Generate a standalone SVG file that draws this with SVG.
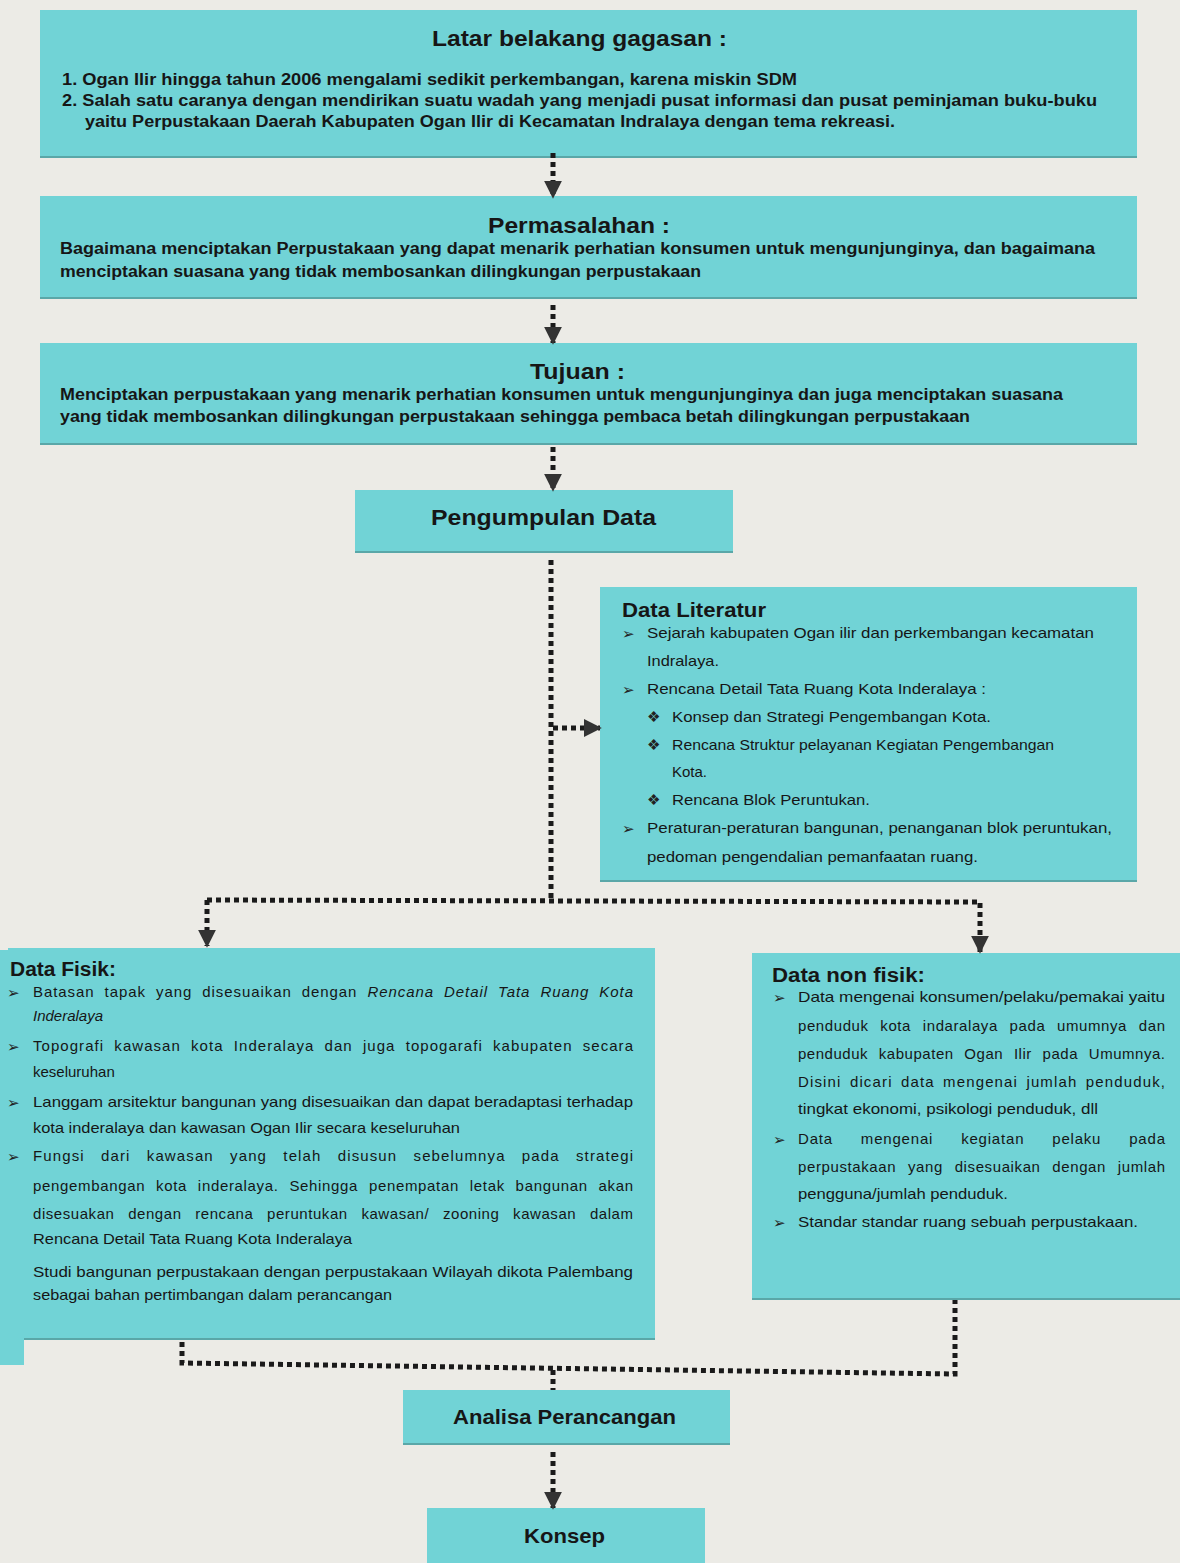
<svg xmlns="http://www.w3.org/2000/svg" width="1180" height="1563" viewBox="0 0 1180 1563">
<style>
.box{fill:#71d3d6}
.edge{stroke:#5aa7a8;stroke-width:2}
.t{font-family:"Liberation Sans",Arial,sans-serif;fill:#161616}
.h{font-weight:bold;font-size:22px}
.b{font-weight:bold;font-size:16px}
.s{font-size:15px}
.bl{font-family:"DejaVu Sans",sans-serif;font-size:15px;fill:#222}
.c{fill:none;stroke:#1a1a1a;stroke-width:5;stroke-dasharray:5 4}
</style>
<defs>
<marker id="ah" markerUnits="userSpaceOnUse" markerWidth="18" markerHeight="18" viewBox="0 0 10 10" refX="9" refY="5" orient="auto">
<path d="M0,0 L10,5 L0,10 z" fill="#333"/>
</marker>
</defs>
<rect width="1180" height="1563" fill="#ecebe6"/>

<g id="latar">
<rect class="box" x="40" y="10" width="1097" height="148"/>
<line class="edge" x1="40" y1="157" x2="1137" y2="157"/>
<text class="t h" x="432" y="46" textLength="295" lengthAdjust="spacingAndGlyphs">Latar belakang gagasan :</text>
<text class="t b" x="62" y="85" textLength="735" lengthAdjust="spacingAndGlyphs">1. Ogan Ilir hingga tahun 2006 mengalami  sedikit perkembangan, karena miskin SDM</text>
<text class="t b" x="62" y="106" textLength="1035" lengthAdjust="spacingAndGlyphs">2. Salah satu caranya dengan mendirikan suatu wadah yang menjadi pusat  informasi dan pusat  peminjaman buku-buku</text>
<text class="t b" x="85" y="127" textLength="810" lengthAdjust="spacingAndGlyphs">yaitu Perpustakaan Daerah Kabupaten Ogan Ilir di Kecamatan Indralaya dengan tema rekreasi.</text>
</g>

<g id="permasalahan">
<rect class="box" x="40" y="196" width="1097" height="103"/>
<line class="edge" x1="40" y1="298" x2="1137" y2="298"/>
<text class="t h" x="488" y="233" textLength="182" lengthAdjust="spacingAndGlyphs">Permasalahan :</text>
<text class="t b" x="60" y="254" textLength="1035" lengthAdjust="spacingAndGlyphs">Bagaimana menciptakan Perpustakaan yang dapat menarik perhatian konsumen untuk mengunjunginya, dan bagaimana</text>
<text class="t b" x="60" y="277" textLength="641" lengthAdjust="spacingAndGlyphs">menciptakan suasana yang tidak membosankan dilingkungan perpustakaan</text>
</g>

<g id="tujuan">
<rect class="box" x="40" y="343" width="1097" height="102"/>
<line class="edge" x1="40" y1="444" x2="1137" y2="444"/>
<text class="t h" x="530" y="379" textLength="95" lengthAdjust="spacingAndGlyphs">Tujuan :</text>
<text class="t b" x="60" y="400" textLength="1003" lengthAdjust="spacingAndGlyphs">Menciptakan perpustakaan yang menarik perhatian konsumen untuk mengunjunginya dan juga menciptakan suasana</text>
<text class="t b" x="60" y="422" textLength="910" lengthAdjust="spacingAndGlyphs">yang tidak membosankan dilingkungan perpustakaan sehingga pembaca betah dilingkungan perpustakaan</text>
</g>

<g id="pengumpulan">
<rect class="box" x="355" y="490" width="378" height="63"/>
<line class="edge" x1="355" y1="552" x2="733" y2="552"/>
<text class="t h" x="431" y="525" textLength="225" lengthAdjust="spacingAndGlyphs">Pengumpulan Data</text>
</g>

<g id="literatur">
<rect class="box" x="600" y="587" width="537" height="295"/>
<line class="edge" x1="600" y1="881" x2="1137" y2="881"/>
<text class="t" x="622" y="617" font-weight="bold" font-size="20" textLength="144" lengthAdjust="spacingAndGlyphs">Data Literatur</text>
<text class="bl" x="622" y="639">➢</text>
<text class="t s" x="647" y="638" textLength="447" lengthAdjust="spacingAndGlyphs">Sejarah kabupaten Ogan ilir dan perkembangan kecamatan</text>
<text class="t s" x="647" y="666" textLength="72" lengthAdjust="spacingAndGlyphs">Indralaya.</text>
<text class="bl" x="622" y="695">➢</text>
<text class="t s" x="647" y="694" textLength="339" lengthAdjust="spacingAndGlyphs">Rencana Detail Tata Ruang Kota Inderalaya :</text>
<text class="bl" x="647" y="722">❖</text>
<text class="t s" x="672" y="722" textLength="319" lengthAdjust="spacingAndGlyphs">Konsep dan Strategi Pengembangan Kota.</text>
<text class="bl" x="647" y="750">❖</text>
<text class="t s" x="672" y="750" textLength="382" lengthAdjust="spacingAndGlyphs">Rencana Struktur pelayanan Kegiatan Pengembangan</text>
<text class="t s" x="672" y="777">Kota.</text>
<text class="bl" x="647" y="805">❖</text>
<text class="t s" x="672" y="805" textLength="198" lengthAdjust="spacingAndGlyphs">Rencana Blok Peruntukan.</text>
<text class="bl" x="622" y="834">➢</text>
<text class="t s" x="647" y="833" textLength="465" lengthAdjust="spacingAndGlyphs">Peraturan-peraturan bangunan, penanganan blok peruntukan,</text>
<text class="t s" x="647" y="862" textLength="331" lengthAdjust="spacingAndGlyphs">pedoman pengendalian pemanfaatan ruang.</text>
</g>

<g id="fisik">
<rect class="box" x="8" y="948" width="647" height="392"/>
<rect class="box" x="0" y="950" width="24" height="415"/>
<line class="edge" x1="24" y1="1339" x2="655" y2="1339"/>
<text class="t" x="10" y="976" font-weight="bold" font-size="20" textLength="106" lengthAdjust="spacingAndGlyphs">Data Fisik:</text>
<text class="bl" x="7" y="998">➢</text>
<text class="t s" x="33" y="997" word-spacing="5" textLength="600" lengthAdjust="spacing">Batasan tapak yang disesuaikan dengan <tspan font-style="italic">Rencana Detail Tata Ruang Kota</tspan></text>
<text class="t s" x="33" y="1021" font-style="italic">Inderalaya</text>
<text class="bl" x="7" y="1052">➢</text>
<text class="t s" x="33" y="1051" word-spacing="5" textLength="600" lengthAdjust="spacing">Topografi kawasan kota Inderalaya dan juga topogarafi kabupaten secara</text>
<text class="t s" x="33" y="1077">keseluruhan</text>
<text class="bl" x="7" y="1108">➢</text>
<text class="t s" x="33" y="1107" textLength="600" lengthAdjust="spacingAndGlyphs">Langgam arsitektur bangunan yang disesuaikan dan dapat beradaptasi terhadap</text>
<text class="t s" x="33" y="1133" textLength="427" lengthAdjust="spacingAndGlyphs">kota inderalaya dan kawasan Ogan Ilir secara keseluruhan</text>
<text class="bl" x="7" y="1162">➢</text>
<text class="t s" x="33" y="1161" word-spacing="11" textLength="600" lengthAdjust="spacing">Fungsi dari kawasan yang telah disusun sebelumnya pada strategi</text>
<text class="t s" x="33" y="1191" word-spacing="6" textLength="600" lengthAdjust="spacing">pengembangan kota inderalaya. Sehingga penempatan letak bangunan akan</text>
<text class="t s" x="33" y="1219" word-spacing="9" textLength="600" lengthAdjust="spacing">disesuakan dengan rencana peruntukan kawasan/ zooning kawasan dalam</text>
<text class="t s" x="33" y="1244" textLength="319" lengthAdjust="spacingAndGlyphs">Rencana Detail Tata Ruang Kota Inderalaya</text>
<text class="t s" x="33" y="1277" textLength="600" lengthAdjust="spacingAndGlyphs">Studi bangunan perpustakaan dengan perpustakaan Wilayah dikota Palembang</text>
<text class="t s" x="33" y="1300" textLength="359" lengthAdjust="spacingAndGlyphs">sebagai bahan pertimbangan dalam perancangan</text>
</g>

<g id="nonfisik">
<rect class="box" x="752" y="953" width="428" height="347"/>
<line class="edge" x1="752" y1="1299" x2="1180" y2="1299"/>
<text class="t" x="772" y="982" font-weight="bold" font-size="20" textLength="153" lengthAdjust="spacingAndGlyphs">Data non fisik:</text>
<text class="bl" x="773" y="1003">➢</text>
<text class="t s" x="798" y="1002" textLength="367" lengthAdjust="spacingAndGlyphs">Data mengenai konsumen/pelaku/pemakai yaitu</text>
<text class="t s" x="798" y="1031" word-spacing="7" textLength="367" lengthAdjust="spacing">penduduk kota indaralaya pada umumnya dan</text>
<text class="t s" x="798" y="1059" word-spacing="6" textLength="367" lengthAdjust="spacing">penduduk kabupaten Ogan Ilir pada Umumnya.</text>
<text class="t s" x="798" y="1087" word-spacing="3" textLength="367" lengthAdjust="spacing">Disini dicari data mengenai jumlah penduduk,</text>
<text class="t s" x="798" y="1114" textLength="300" lengthAdjust="spacingAndGlyphs">tingkat ekonomi, psikologi penduduk, dll</text>
<text class="bl" x="773" y="1145">➢</text>
<text class="t s" x="798" y="1144" word-spacing="23" textLength="367" lengthAdjust="spacing">Data mengenai kegiatan pelaku pada</text>
<text class="t s" x="798" y="1172" word-spacing="7" textLength="367" lengthAdjust="spacing">perpustakaan yang disesuaikan dengan jumlah</text>
<text class="t s" x="798" y="1199" textLength="210" lengthAdjust="spacingAndGlyphs">pengguna/jumlah penduduk.</text>
<text class="bl" x="773" y="1228">➢</text>
<text class="t s" x="798" y="1227" textLength="340" lengthAdjust="spacingAndGlyphs">Standar standar ruang sebuah perpustakaan.</text>
</g>

<g id="analisa">
<rect class="box" x="403" y="1390" width="327" height="55"/>
<line class="edge" x1="403" y1="1444" x2="730" y2="1444"/>
<text class="t" x="453" y="1424" font-weight="bold" font-size="21" textLength="223" lengthAdjust="spacingAndGlyphs">Analisa Perancangan</text>
</g>

<g id="konsep">
<rect class="box" x="427" y="1508" width="278" height="55"/>
<text class="t" x="524" y="1543" font-weight="bold" font-size="21" textLength="81" lengthAdjust="spacingAndGlyphs">Konsep</text>
</g>

<g id="connectors">
<line class="c" x1="553" y1="153" x2="553" y2="197" marker-end="url(#ah)"/>
<line class="c" x1="553" y1="305" x2="553" y2="343" marker-end="url(#ah)"/>
<line class="c" x1="553" y1="447" x2="553" y2="490" marker-end="url(#ah)"/>
<polyline class="c" points="551,560 551,900"/>
<line class="c" x1="553" y1="728" x2="600" y2="728" marker-end="url(#ah)"/>
<polyline class="c" points="207,900 980,902 980,952" marker-end="url(#ah)"/>
<line class="c" x1="207" y1="900" x2="207" y2="946" marker-end="url(#ah)"/>
<polyline class="c" points="182,1342 182,1363 955,1374 955,1300"/>
<line class="c" x1="553" y1="1370" x2="553" y2="1390"/>
<line class="c" x1="553" y1="1452" x2="553" y2="1508" marker-end="url(#ah)"/>
</g>
</svg>
